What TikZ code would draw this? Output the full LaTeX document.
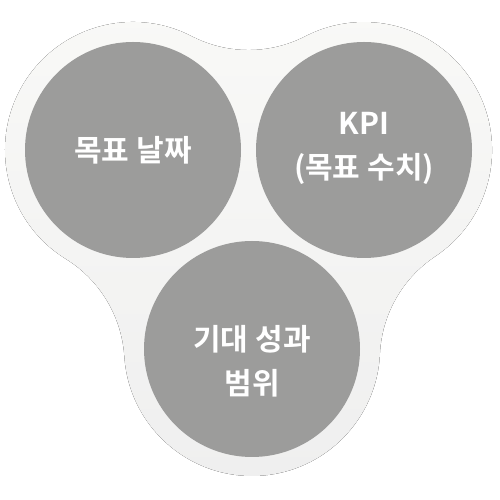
\documentclass[tikz,border=0pt]{standalone}
\usepackage{fontspec}
\setmainfont{Noto Sans CJK KR}[BoldFont={Noto Sans CJK KR Bold}]
\usepackage{tikz}
\usetikzlibrary{calc}
\usetikzlibrary{positioning}
\definecolor{discgray}{RGB}{156,156,155}
\definecolor{blobtop}{RGB}{249,249,247}
\definecolor{blobbot}{RGB}{239,239,239}
\tikzset{disc/.style={circle,fill=discgray,minimum size=216pt,inner sep=0pt}}
\tikzset{tag/.style={text=white,font=\bfseries\fontsize{30}{44}\selectfont,align=center}}
\tikzset{blob/.style={top color=blobtop,bottom color=blobbot}}

\begin{document}
\begin{tikzpicture}[x=1pt,y=1pt]
\useasboundingbox (0,0) rectangle (500,500);

\coordinate (A) at (133,350);
\coordinate (B) at (364,350);
\coordinate (C) at (252,151);

% backdrop: three rounds joined by concave fillets
\fill[blob] ($ (A) + (62.75:128) $)
	arc[start angle=62.75, end angle=238.3, radius=128pt]
	arc[start angle=58.26, end angle=3.75, radius=124.2pt]
	arc[start angle=183.76, end angle=357.31, radius=128pt]
	arc[start angle=177.3, end angle=123.7, radius=124.2pt]
	arc[start angle=-56.3, end angle=117.25, radius=128pt]
	arc[start angle=-62.75, end angle=-117.25, radius=124.2pt] -- cycle;

\foreach \i / \p in {1/A,2/B,3/C}
{
	\node[disc] (D\i) at (\p) {};
}

\node[tag] (T1) at (D1) {목표 날짜};
\node[tag] (T2) at ($ (D2) + (0,2) $) {KPI\\(목표 수치)};
\node[tag] (T3) at ($ (D3) + (0,-12) $) {기대 성과\\범위};

\end{tikzpicture}
\end{document}
